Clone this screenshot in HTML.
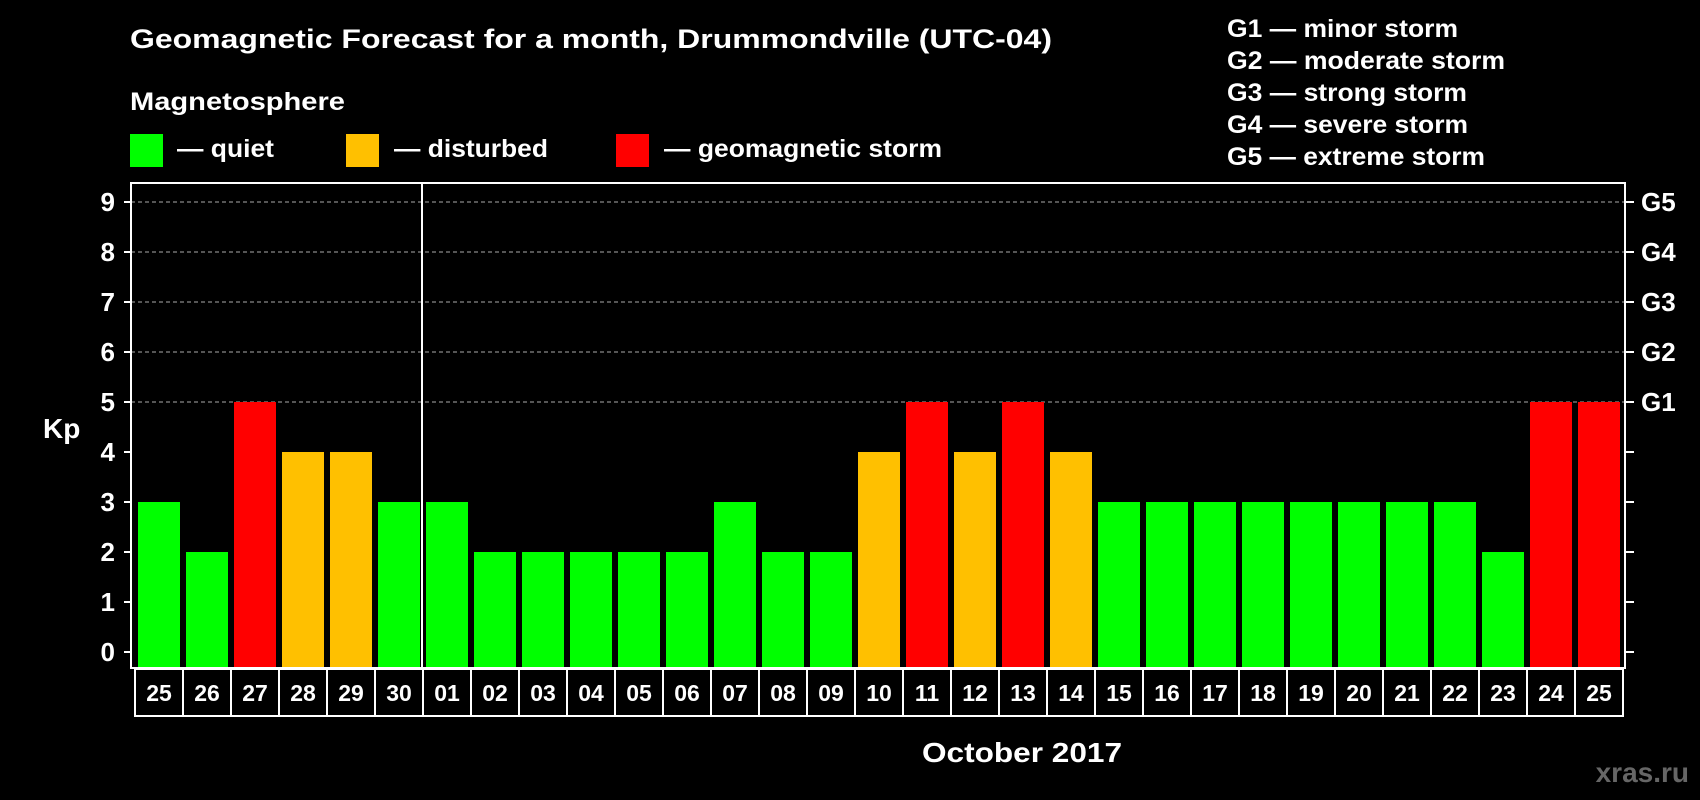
<!DOCTYPE html>
<html><head><meta charset="utf-8"><style>
html,body{margin:0;padding:0;background:#000;}
svg{display:block;font-family:"Liberation Sans",Arial,sans-serif;font-weight:bold;}
</style></head><body>
<svg id="chart" width="1700" height="800" viewBox="0 0 1700 800">
<rect x="0" y="0" width="1700" height="800" fill="#000"/>
<text x="130" y="48" fill="#fff" font-size="27" textLength="922" lengthAdjust="spacingAndGlyphs">Geomagnetic Forecast for a month, Drummondville (UTC-04)</text>
<text x="130" y="110" fill="#fff" font-size="25" textLength="215" lengthAdjust="spacingAndGlyphs">Magnetosphere</text>
<g>
<rect x="130" y="134" width="33" height="33" fill="#00ff00"/>
<text x="177" y="157" fill="#fff" font-size="25" textLength="97" lengthAdjust="spacingAndGlyphs">— quiet</text></g>
<g>
<rect x="346" y="134" width="33" height="33" fill="#ffc000"/>
<text x="394" y="157" fill="#fff" font-size="25" textLength="154" lengthAdjust="spacingAndGlyphs">— disturbed</text></g>
<g>
<rect x="616" y="134" width="33" height="33" fill="#ff0000"/>
<text x="664" y="157" fill="#fff" font-size="25" textLength="278" lengthAdjust="spacingAndGlyphs">— geomagnetic storm</text></g>
<g fill="#fff" font-size="25">
<text x="1227" y="37" textLength="231" lengthAdjust="spacingAndGlyphs">G1 — minor storm</text>
<text x="1227" y="69" textLength="278" lengthAdjust="spacingAndGlyphs">G2 — moderate storm</text>
<text x="1227" y="101" textLength="240" lengthAdjust="spacingAndGlyphs">G3 — strong storm</text>
<text x="1227" y="133" textLength="241" lengthAdjust="spacingAndGlyphs">G4 — severe storm</text>
<text x="1227" y="165" textLength="258" lengthAdjust="spacingAndGlyphs">G5 — extreme storm</text>
</g>
<text x="43" y="438" fill="#fff" font-size="28">Kp</text>
<text x="1022" y="762" fill="#fff" font-size="28" text-anchor="middle" textLength="200" lengthAdjust="spacingAndGlyphs">October 2017</text>
<text x="1689" y="782" fill="#666" font-size="28" text-anchor="end">xras.ru</text>
<g id="grid"></g><g id="bars"></g><g id="axes"></g><g id="xlabels"></g>
</svg>
<script>
const days = ["25","26","27","28","29","30","01","02","03","04","05","06","07","08","09","10","11","12","13","14","15","16","17","18","19","20","21","22","23","24","25"];
const kp = [3,2,5,4,4,3,3,2,2,2,2,2,3,2,2,4,5,4,5,4,3,3,3,3,3,3,3,3,2,5,5];
const yTicks = [0,1,2,3,4,5,6,7,8,9];
const gLabels = ["G1","G2","G3","G4","G5"];
const gLevels = [5,6,7,8,9];
const NS = "http://www.w3.org/2000/svg";
const X0 = 135, STEP = 48, Y0 = 652, UNIT = 50, PL = 131, PR = 1625, PT = 183, PB = 668;
const xs = i => X0 + i * STEP;
const ys = v => Y0 - v * UNIT;
function mk(tag, attrs, parent, txt){const e=document.createElementNS(NS,tag);for(const k in attrs)e.setAttribute(k,attrs[k]);if(txt!==undefined)e.textContent=txt;parent.appendChild(e);return e;}
const grid=document.getElementById('grid'),bars=document.getElementById('bars'),axes=document.getElementById('axes'),xl=document.getElementById('xlabels');
gLevels.forEach(v=>{const l=mk('line',{x1:PL,x2:PR,y1:ys(v),y2:ys(v),stroke:'#888','stroke-width':1.2,'stroke-dasharray':'4,3'},grid);

});
kp.forEach((v,i)=>{const c=v>=5?'#ff0000':(v>=4?'#ffc000':'#00ff00');
const r=mk('rect',{x:xs(i)+3,y:ys(v),width:42,height:PB-ys(v),fill:c},bars);

});
const frame=mk('rect',{x:PL,y:PT,width:PR-PL,height:PB-PT,fill:'none',stroke:'#fff','stroke-width':2},axes);


const div=mk('line',{x1:xs(6)-1,x2:xs(6)-1,y1:PT,y2:PB,stroke:'#fff','stroke-width':2},axes);


yTicks.forEach(v=>{mk('line',{x1:PL-7,x2:PL,y1:ys(v),y2:ys(v),stroke:'#fff','stroke-width':2},axes);
mk('line',{x1:PR,x2:PR+9,y1:ys(v),y2:ys(v),stroke:'#fff','stroke-width':2},axes);
const t=mk('text',{x:115,y:ys(v)+9,fill:'#fff','font-size':26,'text-anchor':'end'},axes,String(v));

});
gLabels.forEach((g,i)=>{const t=mk('text',{x:1641,y:ys(gLevels[i])+9,fill:'#fff','font-size':26},axes,g);

});
days.forEach((d,i)=>{mk('rect',{x:xs(i),y:669,width:STEP,height:47,fill:'#000',stroke:'#fff','stroke-width':2},xl);
const t=mk('text',{x:xs(i)+STEP/2,y:701,fill:'#fff','font-size':23,'text-anchor':'middle'},xl,d);

});
</script>
</body></html>
